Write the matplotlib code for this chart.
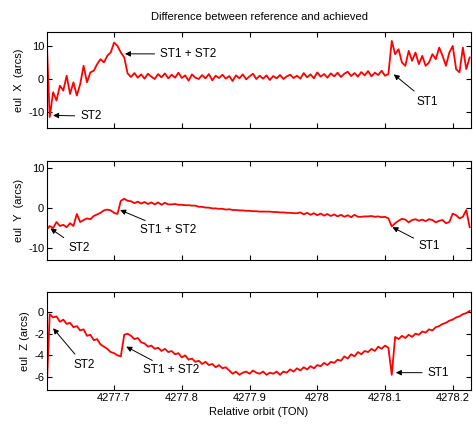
import matplotlib
matplotlib.use("Agg")
import matplotlib.pyplot as plt
import numpy as np

plt.rcParams['font.family'] = ['Liberation Sans', 'DejaVu Sans']
plt.rcParams['axes.unicode_minus'] = False

# sample times (relative orbit), step 0.005
orbit = np.arange(126) * 0.005 + 4277.6

eul_x = [14.5, -11.5, -4.0, -6.5, -2.0, -3.5, 1.0, -4.5, -1.0, -5.0,
         -1.5, 4.0, -1.0, 2.0, 2.5, 4.5, 6.0, 5.0, 7.0, 8.0,
         11.0, 10.0, 8.0, 6.5,
         1.7, 0.6, 1.8, 0.4, 1.4, 0.1, 1.6, 0.7, 0.0, 1.5,
         0.5, 1.7, 0.2, 1.3, 0.4, 1.9, 0.3, 1.1, -0.5, 1.4,
         0.4, 0.0, 1.2, 0.2, 1.5, -0.4, 1.0, 0.3, 1.3, 0.1,
         0.9, -0.6, 1.1, 0.2, 1.4, -0.1, 0.8, 1.6, 0.0, 1.0,
         0.1, 1.1, -0.3, 0.9, 0.2, 1.2, 0.0, 0.8, 1.3, 0.3,
         1.0, 0.1, 1.8, 0.5, 1.4, 0.2, 2.0, 0.7, 1.5, 0.4,
         1.7, 0.8, 1.9, 0.6, 1.6, 2.2, 0.9, 1.8, 0.7, 2.1,
         1.1, 2.4, 0.8, 1.9, 1.2, 2.5, 1.0, 1.5,
         11.5, 7.5, 9.0, 5.0, 4.0, 8.5, 5.5, 8.0, 4.5, 7.0,
         4.0, 5.0, 7.5, 6.0, 9.5, 7.0, 4.0, 8.0, 10.0, 3.0,
         2.0, 9.5, 3.0, 6.5]

eul_y = [-5.5, -4.5, -5.0, -3.5, -4.5, -4.2, -4.8, -3.8, -4.5, -1.5,
         -3.5, -3.0, -2.6, -2.8, -2.0, -1.6, -1.2, -0.6, -0.4, -0.6,
         -1.2, -1.5, 1.8, 2.3, 1.8,
         1.7, 1.2, 1.6, 1.1, 1.5, 1.0, 1.4, 0.9, 1.4, 0.8,
         1.3, 0.9, 0.9, 1.0, 0.8, 0.8, 0.7, 0.7, 0.6, 0.6,
         0.3, 0.3, 0.1, 0.1, -0.1, -0.1, -0.2, -0.2, -0.4, -0.3,
         -0.5, -0.5, -0.6, -0.6, -0.7, -0.7, -0.8, -0.8, -0.9, -0.9,
         -0.9, -0.9, -1.0, -1.0, -1.1, -1.1, -1.2, -1.2, -1.3, -1.3,
         -1.1, -1.6, -1.2, -1.7, -1.3, -1.8, -1.4, -1.9, -1.5, -2.0,
         -1.6, -2.1, -1.7, -2.2, -1.8, -2.3, -1.7, -2.2, -2.2, -2.1,
         -2.1, -2.0, -2.2, -2.1, -2.3, -2.2, -2.6,
         -4.6, -3.8, -3.2, -2.7, -2.9, -3.6, -3.0, -2.8, -3.2, -2.9,
         -3.3, -2.8, -3.0, -3.6, -3.2, -3.0, -3.8, -3.5, -1.4, -1.8,
         -2.6, -2.2, -0.5, -4.8]

eul_z = [-8.0, -0.2, -0.5, -0.4, -0.9, -0.7, -1.1, -1.0, -1.4, -1.3,
         -1.7, -1.6, -2.2, -2.1, -2.6, -2.5, -3.0, -3.2, -3.4, -3.7,
         -3.8, -4.0, -4.1, -2.1,
         -2.0, -2.2, -2.5, -2.4, -2.8, -2.9, -3.2, -3.1, -3.4, -3.3,
         -3.6, -3.4, -3.7, -3.6, -3.9, -3.8, -4.2, -4.0, -4.4, -4.3,
         -4.6, -4.5, -4.8, -4.6, -4.9, -4.8, -5.1, -4.9, -5.2, -5.1,
         -5.4, -5.7, -5.5, -5.8, -5.6, -5.5, -5.7, -5.4, -5.6, -5.7,
         -5.5, -5.8, -5.6, -5.7, -5.5, -5.8, -5.5, -5.6, -5.3, -5.5,
         -5.2, -5.4, -5.1, -5.3, -5.0, -5.2, -4.9, -5.0, -4.7, -4.9,
         -4.6, -4.7, -4.4, -4.5, -4.1, -4.3, -3.9, -4.1, -3.7, -3.9,
         -3.6, -3.7, -3.4, -3.6, -3.2, -3.4, -3.1, -3.3,
         -5.8, -2.3, -2.5, -2.2, -2.4, -2.1, -2.3, -2.0, -2.1, -1.8,
         -1.9, -1.6, -1.7, -1.4, -1.3, -1.1, -1.0, -0.8, -0.7, -0.5,
         -0.4, -0.2, -0.1, 0.1]

xticks = [4277.7, 4277.8, 4277.9, 4278.0, 4278.1, 4278.2]
xticklabels = ['4277.7', '4277.8', '4277.9', '4278', '4278.1', '4278.2']

# (label, arrow head, text position) per panel
notes_x = [('ST2', (4277.610, -11.0), (4277.650, -11.2)),
           ('ST1 + ST2', (4277.716, 7.6), (4277.768, 7.6)),
           ('ST1', (4278.113, 1.4), (4278.146, -6.8))]
notes_y = [('ST2', (4277.606, -5.1), (4277.632, -10.0)),
           ('ST1 + ST2', (4277.709, -0.5), (4277.739, -5.6)),
           ('ST1', (4278.111, -4.8), (4278.150, -9.6))]
notes_z = [('ST2', (4277.610, -1.5), (4277.640, -4.9)),
           ('ST1 + ST2', (4277.718, -3.2), (4277.743, -5.4)),
           ('ST1', (4278.116, -5.6), (4278.163, -5.6))]

fig = plt.figure(figsize=(4.73, 4.28), dpi=100)

panels = [
    (eul_x, [0.0994, 0.7009, 0.8964, 0.2243], (-14.8, 14.2), [-10, 0, 10], 'eul  X  (arcs)', notes_x),
    (eul_y, [0.0994, 0.3925, 0.8964, 0.2313], (-13.0, 11.75), [-10, 0, 10], 'eul  Y  (arcs)', notes_y),
    (eul_z, [0.0994, 0.0888, 0.8964, 0.2290], (-7.2, 1.85), [-6, -4, -2, 0], 'eul  Z (arcs)', notes_z),
]

for k, (vals, rect, ylim, yt, ylab, notes) in enumerate(panels):
    ax = fig.add_axes(rect)
    ax.plot(orbit, vals, color='#ff0000', lw=1.3)
    ax.set_xlim(4277.601, 4278.227)
    ax.set_ylim(*ylim)
    ax.set_yticks(yt)
    ax.set_xticks(xticks)
    if k == 2:
        ax.set_xticklabels(xticklabels)
        ax.set_xlabel('Relative orbit (TON)', fontsize=8, labelpad=3)
    else:
        ax.set_xticklabels([])
    ax.tick_params(direction='in', top=True, right=True, length=3.5,
                   width=0.8, labelsize=8, pad=2)
    ax.set_ylabel(ylab, fontsize=8, labelpad=3)
    for sp in ax.spines.values():
        sp.set_linewidth(0.8)
    for txt, head, pos in notes:
        ax.annotate(txt, xy=head, xytext=pos, ha='left', va='center',
                    fontsize=8.5,
                    arrowprops=dict(arrowstyle='-|>', color='k', lw=0.7,
                                    mutation_scale=8, shrinkA=2, shrinkB=0))
    if k == 0:
        ax.set_title('Difference between reference and achieved',
                     fontsize=8, pad=9)

fig.savefig('out.png', dpi=100)
